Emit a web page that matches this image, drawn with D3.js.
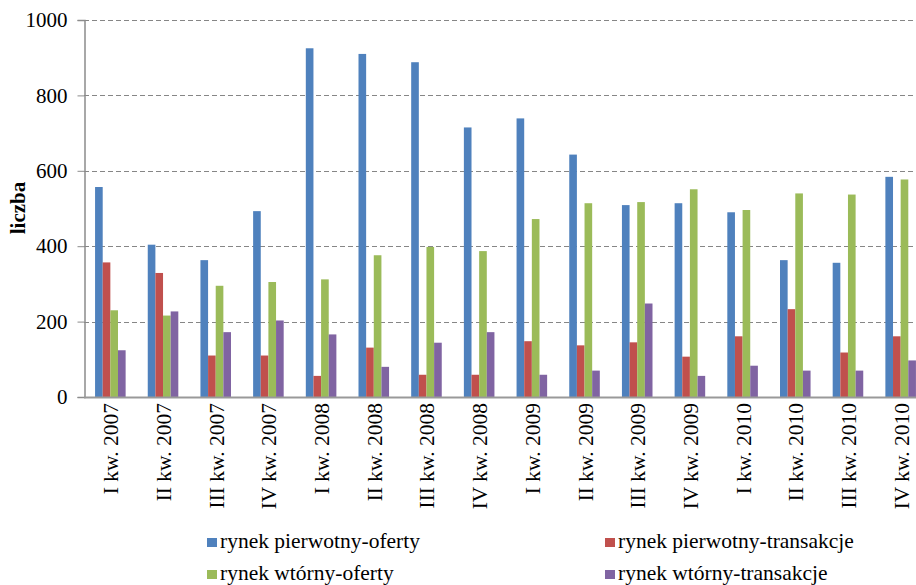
<!DOCTYPE html>
<html lang="pl">
<head>
<meta charset="utf-8">
<title>liczba ofert i transakcji</title>
<script src="https://cdn.jsdelivr.net/npm/d3@7"></script>
<style>
  body { margin: 0; background: #fff; }
  svg { display: block; }
  svg text { font-family: "Liberation Serif", "Times New Roman", serif; }
</style>
</head>
<body>
<script>
// kwartaly
var categories = ["I kw. 2007", "II kw. 2007", "III kw. 2007", "IV kw. 2007",
                  "I kw. 2008", "II kw. 2008", "III kw. 2008", "IV kw. 2008",
                  "I kw. 2009", "II kw. 2009", "III kw. 2009", "IV kw. 2009",
                  "I kw. 2010", "II kw. 2010", "III kw. 2010", "IV kw. 2010"];
var seriesNames = ["rynek pierwotny-oferty", "rynek pierwotny-transakcje",
                   "rynek wtórny-oferty", "rynek wtórny-transakcje"];
var pierwotnyOferty     = [557, 404, 363, 493, 925, 910, 888, 715, 739, 643, 509, 514, 490, 363, 356, 584];
var pierwotnyTransakcje = [357, 329, 110, 110, 56, 131, 59, 59, 148, 137, 145, 107, 161, 233, 118, 161];
var wtornyOferty        = [230, 216, 295, 305, 312, 376, 398, 387, 472, 514, 517, 551, 496, 540, 537, 577];
var wtornyTransakcje    = [124, 227, 172, 203, 166, 80, 144, 172, 59, 70, 248, 56, 83, 70, 70, 97];
var yTicks = [0, 200, 400, 600, 800, 1000];
var colors = ["#4F81BD", "#C0504D", "#9BBB59", "#8064A2"];

var values = [pierwotnyOferty, pierwotnyTransakcje, wtornyOferty, wtornyTransakcje];
var w = 916, h = 585;
var mLeft = 84, mRight = 927, mTop = 20, mBottom = 397;

var svg = d3.select("body").append("svg")
            .attr("width", w)
            .attr("height", h);

// skale
var x = d3.scaleBand()
          .domain(categories)
          .range([mLeft, mRight]);
var groupW = x.bandwidth() * 0.58;
var xs = d3.scaleBand()
           .domain(d3.range(4))
           .range([0, groupW]);
var y = d3.scaleLinear()
          .domain([0, 1000])
          .range([mBottom, mTop]);

// linie siatki
svg.append("g")
   .selectAll("line")
   .data(yTicks.filter(function(d){ return d > 0; }))
   .enter()
   .append("line")
   .attr("x1", mLeft).attr("x2", w)
   .attr("y1", function(d){ return Math.round(y(d)) + 0.5; })
   .attr("y2", function(d){ return Math.round(y(d)) + 0.5; })
   .attr("stroke", "#868686")
   .attr("stroke-dasharray", "5,3");

// slupki
var groups = svg.append("g")
   .selectAll("g")
   .data(categories)
   .enter()
   .append("g")
   .attr("transform", function(d){ return "translate(" + (x(d) + (x.bandwidth() - groupW) / 2) + ",0)"; });

groups.selectAll("rect")
   .data(function(d, i){ return values.map(function(s, k){ return {k: k, v: s[i]}; }); })
   .enter()
   .append("rect")
   .attr("x", function(d){ return xs(d.k); })
   .attr("y", function(d){ return y(d.v); })
   .attr("width", xs.bandwidth())
   .attr("height", function(d){ return mBottom - y(d.v); })
   .attr("fill", function(d){ return colors[d.k]; });

// os Y
var yAxis = d3.axisLeft(y).tickValues(yTicks).tickFormat(d3.format("d")).tickSize(7).tickPadding(10);
var gy = svg.append("g")
   .attr("transform", "translate(" + (mLeft + 0.5) + ",0)")
   .call(yAxis);
gy.select(".domain").attr("stroke", "#8c8c8c").attr("stroke-width", 1.5);
gy.selectAll(".tick line").attr("stroke", "#8c8c8c");
gy.selectAll(".tick text")
  .style("font-family", "'Liberation Serif', serif")
  .attr("font-size", "21px")
  .attr("fill", "#000");

// os X
svg.append("line")
   .attr("x1", mLeft).attr("x2", w)
   .attr("y1", mBottom + 0.5).attr("y2", mBottom + 0.5)
   .attr("stroke", "#999")
   .attr("stroke-width", 2);

svg.append("g")
   .selectAll("text")
   .data(categories)
   .enter()
   .append("text")
   .attr("transform", function(d){ return "translate(" + (x(d) + x.bandwidth() / 2 + 8) + "," + (mBottom + 6) + ") rotate(-90)"; })
   .attr("text-anchor", "end")
   .attr("font-size", "21.5px")
   .attr("fill", "#000")
   .text(function(d){ return d; });

// tytul osi
svg.append("text")
   .attr("transform", "translate(25,208) rotate(-90)")
   .attr("text-anchor", "middle")
   .attr("font-size", "21px")
   .attr("font-weight", "bold")
   .text("liczba");

// legenda
var legendPos = [[207, 548], [605, 548], [207, 580], [605, 580]];
var legend = svg.append("g")
   .selectAll("g")
   .data(seriesNames)
   .enter()
   .append("g")
   .attr("transform", function(d, i){ return "translate(" + legendPos[i][0] + "," + legendPos[i][1] + ")"; });
legend.append("rect")
   .attr("x", 0).attr("y", -10)
   .attr("width", 10).attr("height", 9)
   .attr("fill", function(d, i){ return colors[i]; });
legend.append("text")
   .attr("x", 13)
   .attr("y", 0)
   .attr("font-size", "21.5px")
   .text(function(d){ return d; });
</script>
</body>
</html>
